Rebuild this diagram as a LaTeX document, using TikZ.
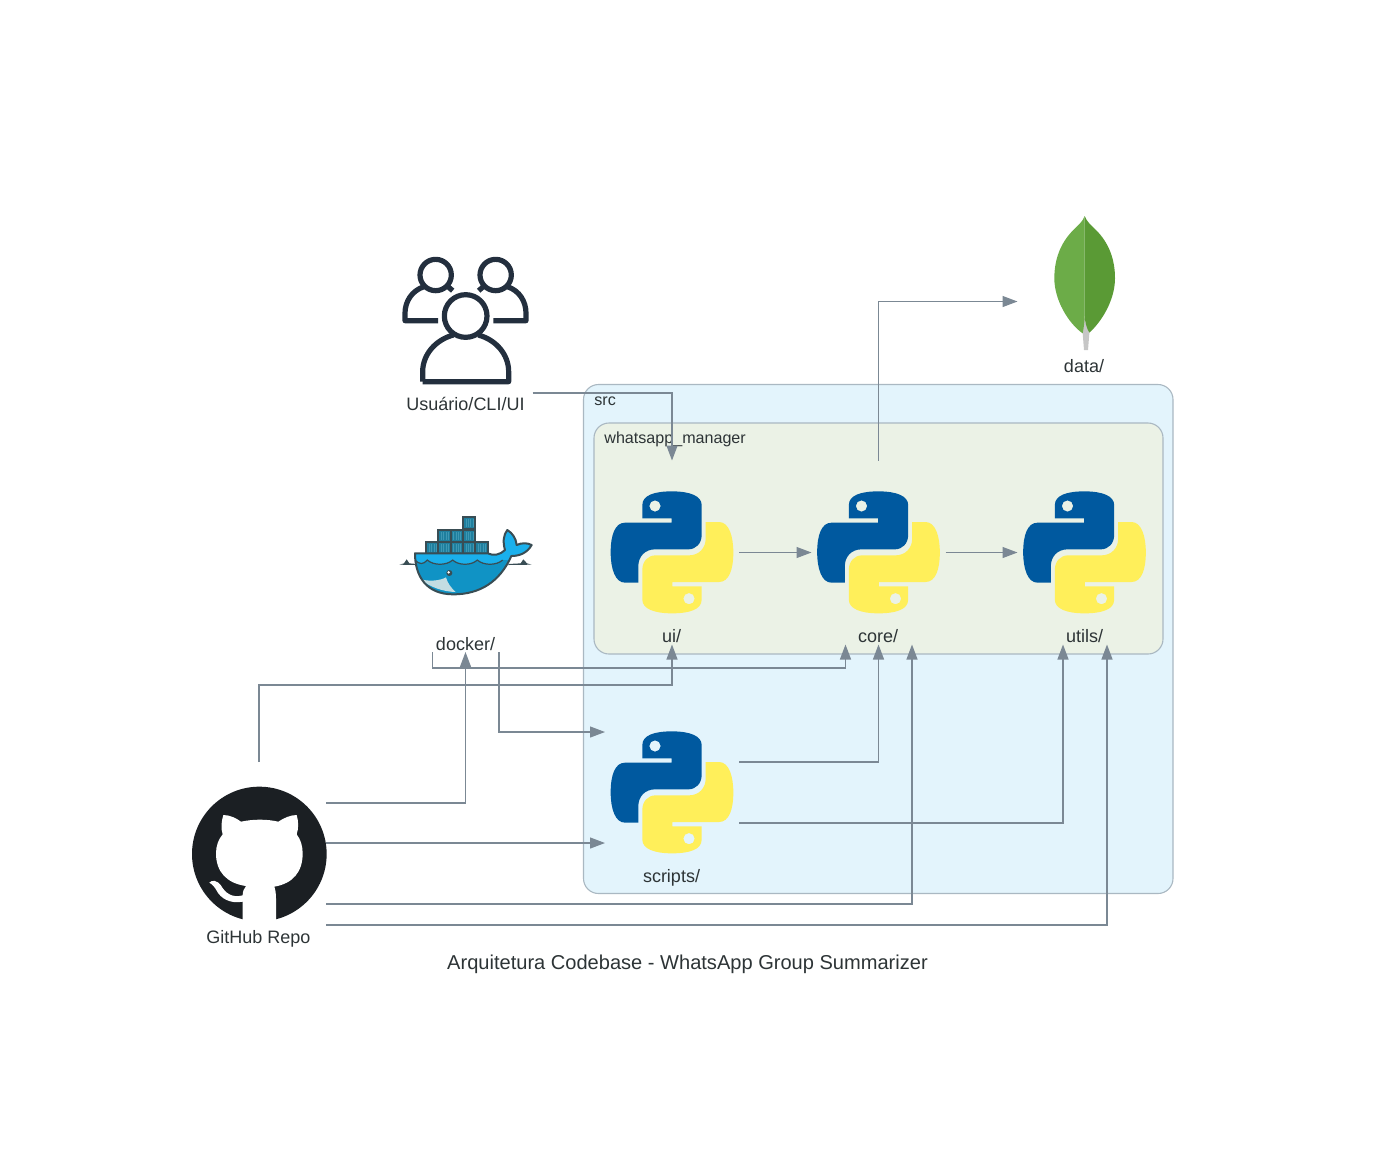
\documentclass[tikz,border=0pt]{standalone}
\usepackage{fontspec}
\setmainfont{Liberation Sans}
\usepackage{tikz}
\usetikzlibrary{arrows.meta, calc}
\usepackage{xcolor}
\definecolor{edgeGray}{HTML}{7B8894}
\definecolor{clusterLine}{HTML}{AAB8C2}
\definecolor{srcFill}{HTML}{E3F4FC}
\definecolor{mgrFill}{HTML}{EBF2E6}
\definecolor{labelInk}{HTML}{2D3436}
\definecolor{pyBlue}{HTML}{00599F}
\definecolor{pyYellow}{HTML}{FFEF5A}
\definecolor{peopleInk}{HTML}{232F3E}
\definecolor{octoInk}{HTML}{1B1F23}
\definecolor{leafLight}{HTML}{6CAC48}
\definecolor{leafDark}{HTML}{5A9A35}
\definecolor{stemGray}{HTML}{C6C6C6}
\definecolor{whaleLine}{HTML}{394D54}
\definecolor{whaleTop}{HTML}{1AB0EC}
\definecolor{whaleLow}{HTML}{1093C5}
\definecolor{whaleBelly}{HTML}{C4DDE2}
\definecolor{crateFill}{HTML}{1F7F9E}
\definecolor{crateStripe}{HTML}{3E97B3}
\newcommand{\PyHalf}{(127,115) -- (127,75) .. controls (127,45) and (165,34) .. (216,34) .. controls (270,34) and (305,48) .. (305,75) -- (305,165) .. controls (305,190) and (288,208) .. (265,208) -- (165,208) .. controls (135,208) and (115,230) .. (115,258) -- (115,308) -- (75,308) .. controls (45,308) and (32,265) .. (32,217) .. controls (32,165) and (45,128) .. (75,128) -- (215,128) -- (215,115) -- cycle (165,78) circle (17)}
\newcommand{\WhaleBody}{(75,160) -- (293,160) .. controls (310,168) and (330,165) .. (345,150) .. controls (338,125) and (340,105) .. (352,90) .. controls (368,100) and (378,115) .. (380,135) .. controls (395,128) and (412,128) .. (425,135) .. controls (412,158) and (390,168) .. (364,168) .. controls (330,245) and (270,283) .. (190,283) .. controls (110,283) and (75,230) .. (75,160) -- cycle}
\newcommand{\WhaleWaves}{(75,180) .. controls (88,194) and (100,194) .. (112,180) .. controls (130,197) and (170,197) .. (188,180) .. controls (205,197) and (245,197) .. (262,180) .. controls (280,197) and (320,197) .. (338,180)}
\tikzset{
    iconbox/.style={inner sep=0pt, outer sep=0pt, minimum width=67pt, minimum height=92pt},
    nodetext/.style={inner sep=0pt, font=\fontsize{9}{11}\selectfont, text=labelInk},
    clustertext/.style={inner sep=0pt, anchor=west, font=\fontsize{8.05}{10}\selectfont, text=labelInk},
    cluster/.style={draw=clusterLine, line width=0.55pt, rounded corners=7.5pt},
    flow/.style={draw=edgeGray, line width=0.6pt, -{Triangle[length=7.5pt, width=5.5pt]}},
    pics/pylogo/.style={code={
        \begin{scope}[scale=1/3]
            \fill[pyBlue, even odd rule] \PyHalf;
            \begin{scope}[rotate around={180:(216,217)}]
                \fill[pyYellow, even odd rule] \PyHalf;
            \end{scope}
        \end{scope}
    }},
    pics/peoplelogo/.style={code={
        \begin{scope}[scale=1/3, draw=peopleInk, line width=2.6pt, line join=round, line cap=butt]
            % back row
            \draw (167,105) circle (47);
            \draw (347,105) circle (47);
            \draw (132,140) .. controls (95,152) and (75,185) .. (75,220) -- (75,242) -- (174,242);
            \draw (382,140) .. controls (419,152) and (438,185) .. (438,220) -- (438,242) -- (340,242);
            \draw (204,140) -- (218,152);
            \draw (310,140) -- (296,152);
            % front
            \draw (257,228) circle (64);
            \draw (128,425) -- (128,395) .. controls (128,345) and (165,300) .. (220,285);
            \draw (295,285) .. controls (350,300) and (386,345) .. (386,395) -- (386,425) -- (128,425);
        \end{scope}
    }},
    pics/whalelogo/.style={code={
        \begin{scope}[scale=1/3]
            % water
            \fill[whaleLine] (28,194) -- (42,190) -- (50,178) -- (58,190) -- (80,192) -- (80,195) -- cycle;
            \fill[whaleLine] (425,194) -- (411,190) -- (400,178) -- (392,190) -- (355,192) -- (355,195) -- cycle;
            % containers
            \foreach \cx/\cy in {219/52, 145/90, 182/90, 219/90, 109/125, 145/125, 182/125, 219/125, 256/125} {
                \fill[crateFill] (\cx,\cy) rectangle ++(37,36);
                \foreach \sx in {9,16,23,30} {
                    \draw[crateStripe, line width=0.3pt] ($(\cx,\cy)+(\sx,6)$) -- ++(0,24);
                }
                \draw[whaleLine, line width=0.9pt] (\cx,\cy) rectangle ++(37,36);
            }
            % body
            \begin{scope}
                \clip \WhaleBody;
                \fill[whaleTop] (60,60) rectangle (440,300);
                \fill[whaleLow] \WhaleWaves -- (360,180) -- (440,300) -- (60,300) -- (60,180) -- cycle;
                \draw[whaleLine, line width=0.6pt] \WhaleWaves;
                \fill[whaleBelly] (92,238) .. controls (120,245) and (150,242) .. (168,232) .. controls (172,248) and (182,262) .. (197,276) .. controls (160,275) and (120,262) .. (92,238) -- cycle;
            \end{scope}
            \draw[whaleLine, line width=1pt, line join=round] \WhaleBody;
            \fill[whaleLine] (178,219) circle (9);
            \fill[white] (176,217) circle (4);
        \end{scope}
    }},
    pics/leaflogo/.style={code={
        \begin{scope}[scale=1/3]
            \fill[stemGray] (222,350) -- (232,385) -- (238,400) -- (234,450) -- (222,450) -- (218,400) -- cycle;
            \fill[leafLight] (224,48) .. controls (218,65) and (205,75) .. (190,90) .. controls (150,130) and (133,180) .. (133,235) .. controls (133,300) and (175,370) .. (218,400) .. controls (221,385) and (224,365) .. (224,345) -- cycle;
            \fill[leafDark] (224,48) .. controls (230,65) and (243,75) .. (258,90) .. controls (298,130) and (315,180) .. (315,235) .. controls (315,300) and (275,365) .. (238,398) .. controls (230,385) and (224,365) .. (224,345) -- cycle;
        \end{scope}
    }},
    pics/octologo/.style={code={
        \begin{scope}[scale=1/3]
            \fill[octoInk] (238,252) circle (202);
            \fill[white] (130,135) .. controls (150,135) and (170,145) .. (183,155) .. controls (220,147) and (260,147) .. (295,155) .. controls (310,145) and (330,135) .. (350,135) .. controls (356,155) and (356,175) .. (350,193) .. controls (362,208) and (368,228) .. (368,250) .. controls (368,305) and (340,340) .. (283,350) .. controls (286,358) and (288,370) .. (288,385) -- (288,458) -- (188,458) -- (188,395) .. controls (150,402) and (122,385) .. (110,362) .. controls (104,350) and (95,342) .. (88,338) .. controls (96,328) and (112,332) .. (122,345) .. controls (135,368) and (155,385) .. (188,376) .. controls (188,365) and (192,355) .. (198,348) .. controls (140,340) and (108,305) .. (108,250) .. controls (108,228) and (115,208) .. (128,193) .. controls (122,175) and (124,155) .. (130,135) -- cycle;
        \end{scope}
    }},
}

\begin{document}
\begin{tikzpicture}[x=0.5pt, y=-0.5pt]
    \useasboundingbox (0,0) rectangle (1376,1169);

    % Clusters
    \draw[cluster, fill=srcFill] (583.5,384.5) rectangle (1173,893.5);
    \node[clustertext] (srclabel) at (594,401.5) {src};
    \draw[cluster, fill=mgrFill] (594,423) rectangle (1163,654);
    \node[clustertext] (mgrlabel) at (604,439) {whatsapp\_manager};

    % Node boxes, the connectors end on these
    \node[iconbox] (user) at (465.5,301) {};
    \node[iconbox] (data) at (1084.5,301.5) {};
    \node[iconbox] (docker) at (465.5,560) {};
    \node[iconbox] (ui) at (672,552.5) {};
    \node[iconbox] (core) at (878.5,552.5) {};
    \node[iconbox] (utils) at (1084.5,552.5) {};
    \node[iconbox] (scripts) at (672,793) {};
    \node[iconbox] (github) at (259,854) {};

    % Icons
    \pic at (380,240) {peoplelogo};
    \pic at (1010,200) {leaflogo};
    \pic at (390,500) {whalelogo};
    \pic at (600,480) {pylogo};
    \pic at (806.5,480) {pylogo};
    \pic at (1012.5,480) {pylogo};
    \pic at (600,720) {pylogo};
    \pic at (180,770) {octologo};

    % Labels
    \node[nodetext] (userlabel) at (465.5,404) {Usuário/CLI/UI};
    \node[nodetext] (datalabel) at (1084,366) {data/};
    \node[nodetext] (dockerlabel) at (465.5,644) {docker/};
    \node[nodetext] (uilabel) at (671.5,636) {ui/};
    \node[nodetext] (corelabel) at (878,636) {core/};
    \node[nodetext] (utilslabel) at (1084.5,636) {utils/};
    \node[nodetext] (scriptslabel) at (671.5,878) {scripts/};
    \node[nodetext] (githublabel) at (258.5,939) {GitHub Repo};
    \node[nodetext, font=\fontsize{10.03}{12}\selectfont] (title) at (687.5,964) {Arquitetura Codebase - WhatsApp Group Summarizer};

    % Connectors
    \draw[flow] (user.south east) -| (ui.north);
    \draw[flow] (ui.east) -- (core.west);
    \draw[flow] (core.east) -- (utils.west);
    \draw[flow] (core.north) |- (data.west);
    \draw[flow] ([xshift=-16.5pt]docker.south) -- ++(0,16) -| ([xshift=-16.5pt]core.south);
    \draw[flow] ([xshift=16.75pt]docker.south) |- ([yshift=30.5pt]scripts.west);
    \draw[flow] (github.north) -- ++(0,-77) -| (ui.south);
    \draw[flow] ([yshift=25.5pt]github.east) -| (docker.south);
    \draw[flow] ([yshift=5.5pt]github.east) -- ([yshift=-25pt]scripts.west);
    \draw[flow] ([yshift=-25pt]github.east) -| ([xshift=16.75pt]core.south);
    \draw[flow] ([yshift=-35.5pt]github.east) -| ([xshift=11.25pt]utils.south);
    \draw[flow] ([yshift=15.5pt]scripts.east) -| (core.south);
    \draw[flow] ([yshift=-15pt]scripts.east) -| ([xshift=-10.75pt]utils.south);
\end{tikzpicture}
\end{document}
